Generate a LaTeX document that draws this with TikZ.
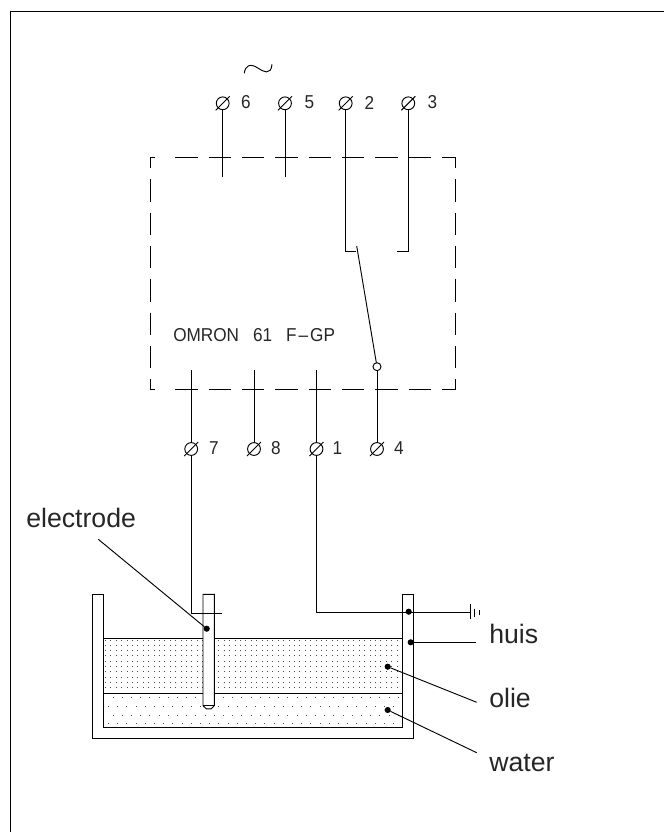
\documentclass[tikz,border=0pt]{standalone}
\usepackage{fontspec}
\setmainfont{Liberation Sans}
\newfontfamily\cadfont[FakeStretch=0.92]{Liberation Sans}
\tikzset{
  wire/.style={line width=0.7pt},
  boxdash/.style={wire,dash pattern=on 16.7pt off 8.3pt},
  terminal/.style={shape=circle,draw=black,wire,inner sep=0pt,outer sep=0pt,minimum size=9.6pt,
    append after command={(\tikzlastnode.center) ++(-7,7) edge[wire] ++(14,-14)}},
  contact/.style={shape=circle,draw=black,wire,fill=white,inner sep=0pt,outer sep=0pt,minimum size=6pt},
  blob/.style={shape=circle,fill=black,inner sep=0pt,outer sep=0pt,minimum size=4.6pt},
  cadtext/.style={font=\cadfont\fontsize{14}{16}\selectfont,text=black!85,inner sep=0pt},
  bigtext/.style={font=\fontsize{20}{24}\selectfont,text=black!85,inner sep=0pt,anchor=base west},
  speck/.style={fill=black!70}
}
\begin{document}
\begin{tikzpicture}[x=0.75pt,y=-0.75pt]
  \useasboundingbox (0,0) rectangle (664,832);
  % sheet edge
  \coordinate (sa) at (664,11);
  \coordinate (sb) at (10.5,11);
  \coordinate (sc) at (10.5,832);
  \draw[wire] (sa) -- (sb) -- (sc);

  % relay box
  \draw[boxdash] (175.3,157.3) -- (455.7,157.3);
  \draw[boxdash] (175.3,389.3) -- (455.7,389.3);
  \draw[boxdash,dash phase=4.5pt] (155.3,157.3) -- (150,157.3) -- (150,389.3) -- (155.3,389.3);
  \draw[boxdash,dash phase=8.4pt] (455.7,157.3) -- (455.7,389.3);
  \node[cadtext,anchor=base west] (omron) at (173,341.7) {OMRON\hspace{10.5pt}61\hspace{10.5pt}F\kern1.5pt–\kern1.5ptGP};

  % terminals
  \node[terminal] (t6) at (222.7,103.3) {};
  \node[terminal] (t5) at (285,103.3) {};
  \node[terminal] (t2) at (345.7,103.3) {};
  \node[terminal] (t3) at (408.3,103.3) {};
  \node[terminal] (t7) at (191.2,449) {};
  \node[terminal] (t8) at (254,449) {};
  \node[terminal] (t1) at (316.5,449) {};
  \node[terminal] (t4) at (377,449) {};
  \node[cadtext] (n6) at (246,102.5) {6};
  \node[cadtext] (n5) at (309.5,102.5) {5};
  \node[cadtext] (n2) at (369.5,102.5) {2};
  \node[cadtext] (n3) at (432.5,102.5) {3};
  \node[cadtext] (n7) at (214,448.5) {7};
  \node[cadtext] (n8) at (276,448.5) {8};
  \node[cadtext] (n1) at (337.5,448.5) {1};
  \node[cadtext] (n4) at (399,448.5) {4};
  \draw[wire] (244.3,73.3) .. controls (245,66) and (250,62.5) .. (258.3,68.3)
    .. controls (263,71.5) and (271,76) .. (272,64.3);

  % stubs and contact
  \coordinate (s6) at (222.7,176.7);
  \coordinate (s5) at (285,176.7);
  \coordinate (s7) at (191.2,370);
  \coordinate (s8) at (254,370);
  \coordinate (s1) at (316.5,370);
  \coordinate (k2) at (345.7,251);
  \coordinate (k2b) at (356,251);
  \coordinate (k3) at (408.3,251);
  \coordinate (k3b) at (397.3,251);
  \coordinate (arm) at (356.7,246);
  \node[contact] (c4) at (377,366.7) {};
  \path [-,wire](t6) edge (s6);
  \path [-,wire](t5) edge (s5);
  \path [-,wire](t7) edge (s7);
  \path [-,wire](t8) edge (s8);
  \path [-,wire](t1) edge (s1);
  \path [-,wire](t4) edge (c4);
  \path [-,wire](arm) edge (c4);
  \draw[wire] (t2) -- (k2) -- (k2b);
  \draw[wire] (t3) -- (k3) -- (k3b);

  % tank with oil and water
  \foreach \y in {640,645.3,650.6,655.9,661.2,666.5,671.8,677.1,682.4,687.7}
    \foreach \x in {105.5,110.9,...,401}
      \fill[speck] (\x-0.5,\y-0.5) rectangle (\x+0.5,\y+0.5);
  \foreach \y/\s in {697.7/113,706.4/108.5,715.1/113,723.8/108.5}
    \foreach \x in {0,9.2,...,290}
      \fill[speck] (\s+\x-0.5,\y-0.5) rectangle (\s+\x+0.5,\y+0.5);
  \draw[wire] (103.3,638.5) -- (402.7,638.5);
  \draw[wire] (103.3,693.8) -- (402.7,693.8);
  \draw[wire] (92.7,594.3) -- (103.3,594.3) -- (103.3,727.3) -- (402.7,727.3) -- (402.7,594.3)
    -- (413.7,594.3) -- (413.7,738.5) -- (92.7,738.5) -- cycle;
  \draw[wire,fill=white] (203,594.3) -- (214.3,594.3) -- (214.3,705.7) -- (211,708.9)
    -- (206.5,708.9) -- (203,705.7) -- cycle;
  \draw[wire] (203,705.7) -- (214.3,705.7);

  % wires down to the tank
  \coordinate (c7) at (191.2,613.3);
  \coordinate (c7b) at (221.7,613.3);
  \coordinate (c1) at (316.5,612);
  \coordinate (g1) at (470,612);
  \draw[wire] (t7) -- (c7) -- (c7b);
  \draw[wire] (t1) -- (c1) -- (g1);

  % earth
  \coordinate (g1a) at (470,604);
  \coordinate (g1b) at (470,619.3);
  \coordinate (g2a) at (474.7,608.7);
  \coordinate (g2b) at (474.7,616.5);
  \coordinate (g3a) at (479,610);
  \coordinate (g3b) at (479,614.5);
  \path [-,wire](g1a) edge (g1b);
  \path [-,wire](g2a) edge (g2b);
  \path [-,wire](g3a) edge (g3b);

  % callouts
  \node[blob] (delec) at (206.7,628.7) {};
  \node[blob] (dgnd) at (408.7,611.7) {};
  \node[blob] (dhuis) at (410.7,642.3) {};
  \node[blob] (dolie) at (387.7,666.7) {};
  \node[blob] (dwater) at (387.7,710) {};
  \coordinate (eelec) at (98.3,539.3);
  \coordinate (ehuis) at (476,642.3);
  \coordinate (eolie) at (476.7,702.3);
  \coordinate (ewater) at (476.7,752.7);
  \path [-,wire](delec) edge (eelec);
  \path [-,wire](dhuis) edge (ehuis);
  \path [-,wire](dolie) edge (eolie);
  \path [-,wire](dwater) edge (ewater);
  \node[bigtext] (lelec) at (26,527.7) {electrode};
  \node[bigtext] (lhuis) at (489,643.3) {huis};
  \node[bigtext] (lolie) at (489,707.7) {olie};
  \node[bigtext] (lwater) at (489,771.7) {water};
\end{tikzpicture}
\end{document}
